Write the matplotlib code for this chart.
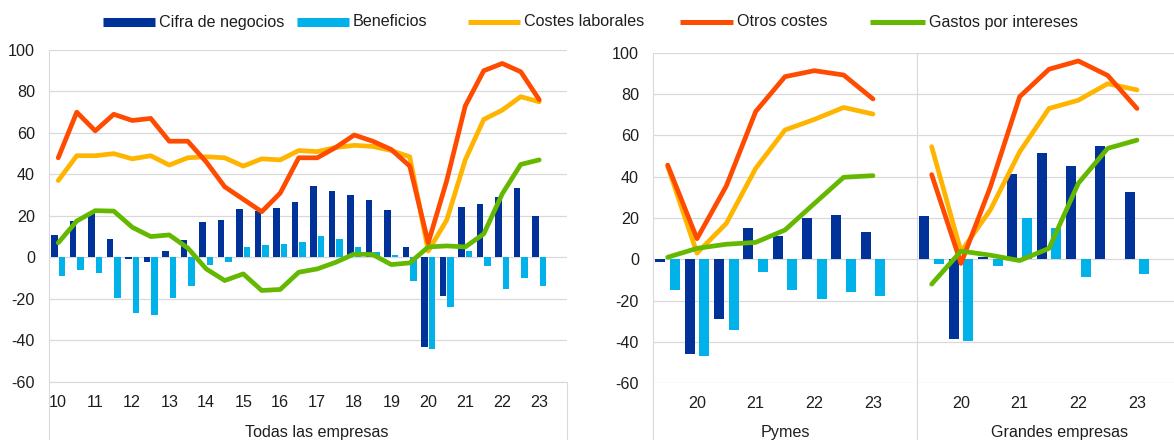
import matplotlib
matplotlib.use('Agg')
import matplotlib.pyplot as plt
from matplotlib.lines import Line2D
import numpy as np

plt.rcParams['font.family'] = ['Liberation Sans', 'DejaVu Sans']
plt.rcParams['axes.unicode_minus'] = False

# ---------------- data ----------------
# Todas las empresas: half-yearly 2010H1 .. 2023H1 (27 obs, one empty slot at the end)
years_all = ['10', '11', '12', '13', '14', '15', '16', '17', '18', '19', '20', '21', '22', '23']
cifra_all = [11, 17.5, 21.5, 9, -1, -2.5, 3, 8.5, 17, 18, 23.5, 22.5, 24, 26.5, 34.5,
             32, 30, 27.5, 23, 5, -43.5, -18.5, 24.5, 25.5, 29, 33.5, 20]
beneficios_all = [-9, -6, -7.7, -19.7, -27, -28, -19.7, -14, -3.7, -2.4, 5.2, 6.1, 6.5, 7.3,
                  10.2, 8.9, 5.2, 2.4, 1.1, -11.2, -44.3, -24, 2.9, -4.3, -15.5, -10, -14]
laborales_all = [37, 49, 49, 50, 47.5, 49, 44.5, 48, 48.5, 48, 44, 47.5, 47, 51.5, 51,
                 53, 54, 53.5, 51.5, 48.5, 3, 18, 47, 66.5, 71, 77.5, 75]
otros_all = [48, 70, 61, 69, 66, 67, 56, 56, 46, 34, 28, 22, 31, 48, 48,
             53, 59, 56, 52, 44, 7, 37, 73, 90, 93.5, 89.5, 76]
intereses_all = [7, 17.5, 22.5, 22.3, 14.5, 10, 10.8, 4.5, -5.6, -11.2, -8, -16, -15.5, -7.2, -5.6,
                 -2.4, 1.6, 1.3, -3.5, -2.7, 5, 5.5, 5, 11.3, 30.6, 44.8, 47]

# Pymes / Grandes empresas: 2019H2 .. 2023H1
years_sub = ['20', '21', '22', '23']
cifra_pymes = [-1.5, -45.8, -29, 15.3, 11.3, 20.2, 21.5, 13.2]
beneficios_pymes = [-14.8, -46.8, -34.2, -6.1, -14.8, -19, -16, -17.7]
laborales_pymes = [45, 3, 17.4, 44, 62.6, 67.7, 73.5, 70.3]
otros_pymes = [45.6, 10, 35.5, 71.5, 88.4, 91.3, 89.2, 77.6]
intereses_pymes = [1, 5.3, 7.3, 8.2, 14.2, 27, 39.7, 40.5]

cifra_grandes = [21.1, -38.7, 1.3, 41.3, 51.3, 45.2, 54.8, 32.4]
beneficios_grandes = [-2.4, -39.4, -3.2, 20.2, 15.3, -8.7, 0, -7.1]
laborales_grandes = [54.5, 3.7, 23.9, 52, 73, 77, 85, 82]
otros_grandes = [41, -2, 35, 78.7, 92, 96, 89, 73]
intereses_grandes = [-12, 4, 2, -0.6, 5.3, 36.8, 53.7, 57.7]

series_names = ['Cifra de negocios', 'Beneficios', 'Costes laborales', 'Otros costes',
                'Gastos por intereses']
group_names = ['Todas las empresas', 'Pymes', 'Grandes empresas']

# ---------------- style ----------------
NAVY = '#003299'
LIGHT = '#00B1EA'
ORANGE = '#FFB400'
RED = '#FF4B00'
GREEN = '#65B800'
GRID = '#d9d9d9'
TXT = '#1e1e1e'
FS = 11.6

W, H = 1174, 440
fig = plt.figure(figsize=(W / 100, H / 100), dpi=100)


def make_ax(left, right, top, bottom):
    return fig.add_axes([left / W, 1 - bottom / H, (right - left) / W, (bottom - top) / H])


def fig_line(x0, y0, x1, y1, color=GRID, lw=0.8):
    fig.add_artist(Line2D([x0 / W, x1 / W], [1 - y0 / H, 1 - y1 / H],
                          transform=fig.transFigure, color=color, lw=lw))


def draw_panel(ax, nslots, cifra, benef, lab, otros, inter, tick_pos, tick_labels,
               bw, off, show_y=True):
    x = np.arange(len(cifra))
    ax.set_xlim(-0.5, nslots - 0.5)
    ax.set_ylim(-60, 100)
    ax.set_yticks(range(-60, 101, 20))
    ax.grid(axis='y', color=GRID, lw=0.9, zorder=0)
    ax.set_axisbelow(True)
    for s in ax.spines.values():
        s.set_visible(False)
    ax.bar(x - off, cifra, width=bw, color=NAVY, zorder=2)
    ax.bar(x + off, benef, width=bw, color=LIGHT, zorder=2)
    kw = dict(lw=3.4, solid_capstyle='round', solid_joinstyle='round')
    ax.plot(x, lab, color=ORANGE, zorder=3, **kw)
    ax.plot(x, otros, color=RED, zorder=4, **kw)
    ax.plot(x, inter, color=GREEN, zorder=5, **kw)
    ax.set_xticks(tick_pos)
    ax.set_xticklabels(tick_labels)
    ax.tick_params(axis='both', length=0, labelsize=FS, labelcolor=TXT)
    ax.tick_params(axis='x', pad=9.5)
    ax.tick_params(axis='y', pad=10)
    if not show_y:
        ax.tick_params(axis='y', labelleft=False)


ax_all = make_ax(49, 567, 50, 381.7)
ax_py = make_ax(653, 917, 52.7, 383.3)
ax_gr = make_ax(917, 1181, 52.7, 383.3)

draw_panel(ax_all, 28, cifra_all, beneficios_all, laborales_all, otros_all, intereses_all,
           list(range(0, 27, 2)), years_all, 0.36, 0.2)
draw_panel(ax_py, 9, cifra_pymes, beneficios_pymes, laborales_pymes, otros_pymes,
           intereses_pymes, [1, 3, 5, 7], years_sub, 0.34, 0.245)
draw_panel(ax_gr, 9, cifra_grandes, beneficios_grandes, laborales_grandes, otros_grandes,
           intereses_grandes, [1, 3, 5, 7], years_sub, 0.34, 0.245, show_y=False)

# frame / separators
fig_line(49, 50, 49, 440)
fig_line(49, 381.7, 566.5, 381.7)
fig_line(566.5, 381.7, 566.5, 440)
fig_line(653, 52.7, 653, 440)
fig_line(917, 52.7, 917, 440)

# group labels
for name, xc in zip(group_names, [317, 785, 1060]):
    fig.text(xc / W, 1 - 432 / H, name, ha='center', va='center', fontsize=FS, color=TXT)

# legend
leg_handles = [(103, 155, NAVY, 6.5), (297, 349, LIGHT, 6.5), (468, 520, ORANGE, 3.6),
               (680, 733, RED, 3.6), (870, 925, GREEN, 3.6)]
leg_y = 22
for (x0, x1, c, lw), name in zip(leg_handles, series_names):
    fig.add_artist(Line2D([x0 / W, x1 / W], [1 - leg_y / H, 1 - leg_y / H],
                          transform=fig.transFigure, color=c, lw=lw, solid_capstyle='butt'))
    fig.text((x1 + 4) / W, 1 - leg_y / H, name, ha='left', va='center', fontsize=FS, color=TXT)

fig.savefig('out.png', dpi=100)
